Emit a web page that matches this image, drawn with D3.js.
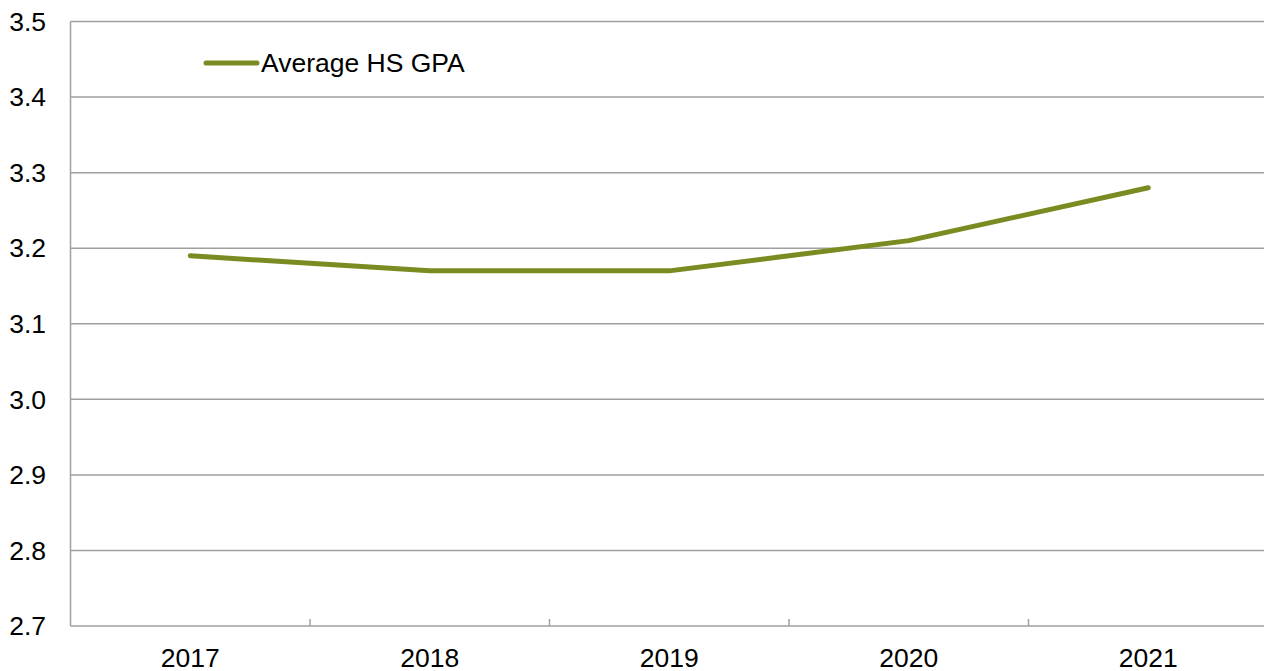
<!DOCTYPE html>
<html><head><meta charset="utf-8">
<script src="https://cdn.jsdelivr.net/npm/d3@7"></script>
<style>body{margin:0;background:#fff;}svg{display:block;font-family:"Liberation Sans",Arial,sans-serif;}</style>
</head><body>
<svg id="c" width="1264" height="671"></svg>
<script>
const years = ["2017","2018","2019","2020","2021"];
const gpaValues = [3.19, 3.17, 3.17, 3.21, 3.28];
const yTicks = [2.7, 2.8, 2.9, 3.0, 3.1, 3.2, 3.3, 3.4, 3.5];
const seriesName = "Average HS GPA";

(function () {
const svg = d3.select("#c");
const mLeft = 70.5, mRight = 1268, mTop = 21.5, mBottom = 626;
const x = d3.scaleBand().domain(years).range([mLeft, mRight]);
const y = d3.scaleLinear().domain([2.7, 3.5]).range([mBottom, mTop]);
const grid = "#a0a0a0";
const fs = 26.5;

svg.append("g").selectAll("line").data(yTicks.filter(d => d > 2.7)).join("line")
  .attr("x1", mLeft).attr("x2", 1264).attr("y1", d => y(d)).attr("y2", d => y(d))
  .attr("stroke", grid).attr("stroke-width", 1.5);

svg.append("g").selectAll("text").data(yTicks).join("text")
  .attr("x", 46).attr("y", d => y(d)).attr("dy", "0.35em")
  .attr("text-anchor", "end").attr("font-size", fs).attr("fill", "#000")
  .text(d => d.toFixed(1));

svg.append("line").attr("x1", mLeft).attr("x2", mLeft).attr("y1", mTop).attr("y2", mBottom)
  .attr("stroke", grid).attr("stroke-width", 1.5);
svg.append("line").attr("x1", mLeft).attr("x2", 1264).attr("y1", mBottom).attr("y2", mBottom)
  .attr("stroke", grid).attr("stroke-width", 1.5);

svg.append("g").selectAll("line").data(years.slice(1)).join("line")
  .attr("x1", d => x(d)).attr("x2", d => x(d)).attr("y1", mBottom).attr("y2", mBottom - 7)
  .attr("stroke", grid).attr("stroke-width", 1.5);

svg.append("g").selectAll("text").data(years).join("text")
  .attr("x", d => x(d) + x.bandwidth() / 2).attr("y", 667)
  .attr("text-anchor", "middle").attr("font-size", fs).attr("fill", "#000")
  .text(d => d);

const color = "#7a8c21";
const line = d3.line().x((d, i) => x(years[i]) + x.bandwidth() / 2).y(d => y(d));
svg.append("path").datum(gpaValues).attr("d", line)
  .attr("fill", "none").attr("stroke", color).attr("stroke-width", 5)
  .attr("stroke-linecap", "round").attr("stroke-linejoin", "round");

svg.append("line").attr("x1", 206).attr("x2", 257).attr("y1", 63).attr("y2", 63)
  .attr("stroke", color).attr("stroke-width", 5).attr("stroke-linecap", "round");
svg.append("text").attr("x", 261).attr("y", 63).attr("dy", "0.35em")
  .attr("font-size", fs).attr("fill", "#000").text(seriesName);
})();
</script>
</body></html>
